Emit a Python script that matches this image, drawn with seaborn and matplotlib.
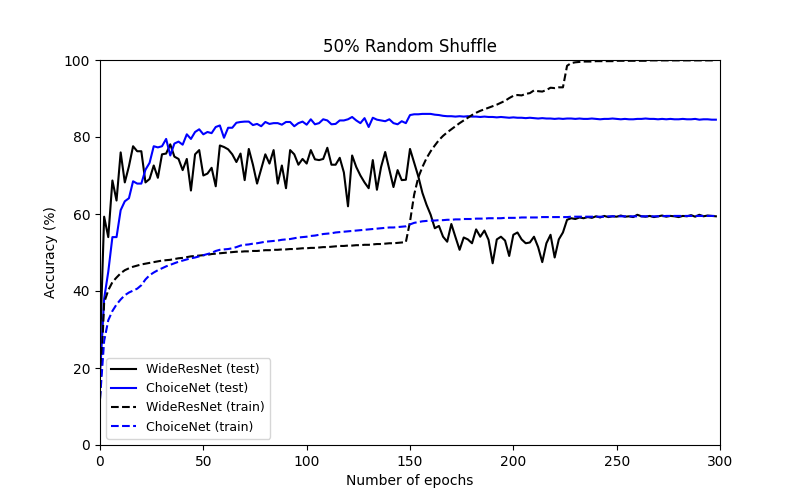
import matplotlib
matplotlib.use("Agg")
import matplotlib.pyplot as plt
import seaborn as sns

# epochs (evaluated every 2 epochs)
epochs = list(range(0, 300, 2))

wrn_test = [
    25.0, 59.3, 54.0, 68.7, 63.5, 76.0, 68.2, 72.4, 77.6, 76.3,
    76.3, 68.2, 69.1, 72.6, 69.4, 75.5, 75.7, 78.1, 74.9, 74.3,
    71.4, 74.3, 66.1, 75.5, 76.6, 70.0, 70.5, 72.0, 67.2, 77.8,
    77.4, 76.8, 75.5, 73.5, 75.7, 68.8, 76.9, 72.8, 67.9, 71.7,
    75.5, 73.1, 76.6, 67.9, 72.6, 66.7, 76.6, 75.5, 72.8, 74.3,
    73.1, 76.6, 74.2, 74.0, 74.3, 77.2, 72.8, 72.8, 74.6, 70.8,
    62.0, 75.2, 72.2, 70.0, 68.2, 66.7, 74.0, 66.3, 72.2, 76.1,
    71.5, 67.0, 71.4, 68.8, 68.9, 76.9, 73.3, 69.8, 65.5, 62.4,
    59.8, 56.3, 56.9, 54.1, 52.8, 57.4, 54.0, 50.7, 53.9, 53.4,
    52.4, 56.0, 54.1, 55.7, 53.3, 47.2, 53.4, 54.1, 53.1, 49.1,
    54.6, 55.2, 53.4, 52.4, 52.6, 54.1, 51.4, 47.5, 52.4, 54.6,
    48.7, 53.4, 55.2, 58.5, 58.9, 58.7, 59.1, 58.9, 59.2, 59.0,
    59.4, 59.1, 59.5, 59.2, 59.4, 59.3, 59.6, 59.3, 59.4, 59.2,
    59.8, 59.4, 59.3, 59.5, 59.2, 59.4, 59.6, 59.3, 59.5, 59.4,
    59.2, 59.5, 59.4, 59.7, 59.3, 59.8, 59.4, 59.6, 59.5, 59.4,
]

cn_test = [
    18.0, 38.0, 45.0, 54.0, 54.0, 61.0, 63.3, 64.1, 68.5, 67.9,
    67.9, 71.5, 73.3, 77.6, 77.3, 77.6, 79.5, 75.2, 78.3, 78.8,
    78.0, 80.7, 79.5, 81.3, 82.0, 80.7, 81.3, 81.0, 82.6, 83.0,
    79.8, 82.4, 82.4, 83.7, 83.9, 84.0, 84.0, 83.1, 83.4, 82.8,
    83.9, 83.4, 83.6, 83.6, 83.2, 83.9, 83.9, 82.8, 83.6, 84.0,
    83.2, 84.6, 83.3, 83.6, 84.6, 84.3, 83.3, 83.4, 84.3, 84.3,
    84.6, 85.2, 84.3, 83.6, 84.9, 82.6, 85.0, 84.5, 84.3, 84.1,
    84.6, 83.6, 83.3, 84.1, 83.6, 85.7, 85.9, 85.9, 86.0, 86.0,
    86.0, 85.8, 85.7, 85.5, 85.4, 85.4, 85.3, 85.4, 85.3, 85.4,
    85.3, 85.3, 85.2, 85.3, 85.2, 85.2, 85.1, 85.2, 85.1, 85.0,
    85.1, 85.0, 85.0, 84.9, 85.0, 84.9, 84.8, 84.9, 84.8, 84.8,
    84.7, 84.8, 84.7, 84.8, 84.8, 84.7, 84.8, 84.7, 84.7, 84.8,
    84.7, 84.6, 84.7, 84.7, 84.8, 84.7, 84.6, 84.7, 84.6, 84.6,
    84.7, 84.7, 84.8, 84.7, 84.7, 84.6, 84.7, 84.6, 84.7, 84.6,
    84.6, 84.7, 84.6, 84.6, 84.7, 84.5, 84.6, 84.6, 84.5, 84.5,
]

wrn_train = [
    12.0, 37.0, 40.2, 42.3, 43.5, 44.6, 45.4, 45.9, 46.3, 46.6,
    46.9, 47.1, 47.3, 47.5, 47.7, 47.9, 48.0, 48.1, 48.3, 48.5,
    48.6, 48.8, 49.0, 49.1, 49.2, 49.3, 49.4, 49.6, 49.7, 49.8,
    49.9, 50.0, 50.1, 50.2, 50.2, 50.3, 50.3, 50.4, 50.4, 50.5,
    50.6, 50.6, 50.7, 50.7, 50.8, 50.8, 50.9, 50.9, 51.0, 51.1,
    51.1, 51.2, 51.2, 51.3, 51.4, 51.4, 51.5, 51.6, 51.7, 51.7,
    51.8, 51.8, 51.9, 51.9, 52.0, 52.0, 52.1, 52.2, 52.2, 52.3,
    52.4, 52.4, 52.5, 52.6, 52.7, 58.0, 65.0, 69.5, 72.2, 74.5,
    76.3, 77.8, 79.2, 80.3, 81.2, 82.0, 82.8, 83.6, 84.3, 85.0,
    85.7, 86.3, 86.8, 87.2, 87.6, 88.0, 88.4, 88.9, 89.4, 90.1,
    90.7, 90.9, 90.8, 91.2, 91.4, 92.1, 91.9, 91.8, 92.2, 92.8,
    92.7, 92.9, 92.9, 98.5, 99.2, 99.4, 99.5, 99.6, 99.6, 99.6,
    99.7, 99.7, 99.7, 99.7, 99.7, 99.8, 99.8, 99.8, 99.8, 99.8,
    99.8, 99.8, 99.8, 99.9, 99.9, 99.9, 99.9, 99.9, 99.9, 99.9,
    99.9, 99.9, 99.9, 99.9, 99.9, 99.9, 99.9, 99.9, 99.9, 99.9,
]

cn_train = [
    12.0, 27.0, 32.4, 34.8, 36.5, 37.8, 38.9, 39.6, 40.1, 40.6,
    41.5, 43.0, 44.1, 44.8, 45.4, 45.9, 46.4, 46.8, 47.2, 47.6,
    47.9, 48.2, 48.5, 48.7, 49.0, 49.3, 49.6, 49.9, 50.4, 50.7,
    50.8, 50.9, 51.1, 51.4, 51.8, 52.0, 52.1, 52.3, 52.4, 52.6,
    52.8, 52.9, 53.0, 53.1, 53.3, 53.4, 53.5, 53.7, 53.9, 54.0,
    54.1, 54.3, 54.4, 54.6, 54.8, 54.9, 55.0, 55.2, 55.3, 55.4,
    55.5, 55.6, 55.7, 55.8, 55.9, 56.0, 56.1, 56.2, 56.3, 56.4,
    56.5, 56.5, 56.6, 56.7, 56.8, 57.3, 57.7, 57.9, 58.1, 58.2,
    58.3, 58.3, 58.4, 58.4, 58.5, 58.5, 58.6, 58.6, 58.7, 58.7,
    58.7, 58.8, 58.8, 58.8, 58.9, 58.9, 58.9, 58.9, 59.0, 59.0,
    59.0, 59.0, 59.1, 59.1, 59.1, 59.1, 59.1, 59.2, 59.2, 59.2,
    59.2, 59.2, 59.2, 59.2, 59.3, 59.3, 59.3, 59.3, 59.3, 59.3,
    59.3, 59.3, 59.3, 59.4, 59.4, 59.4, 59.4, 59.4, 59.4, 59.4,
    59.4, 59.4, 59.4, 59.4, 59.4, 59.4, 59.4, 59.5, 59.5, 59.5,
    59.5, 59.5, 59.5, 59.5, 59.5, 59.5, 59.5, 59.5, 59.5, 59.5,
]

fig, ax = plt.subplots(figsize=(8, 5), dpi=100)

sns.lineplot(x=epochs, y=wrn_test, color="black", linestyle="-",
             label="WideResNet (test)", ax=ax)
sns.lineplot(x=epochs, y=cn_test, color="blue", linestyle="-",
             label="ChoiceNet (test)", ax=ax)
sns.lineplot(x=epochs, y=wrn_train, color="black", linestyle="--",
             label="WideResNet (train)", ax=ax)
sns.lineplot(x=epochs, y=cn_train, color="blue", linestyle="--",
             label="ChoiceNet (train)", ax=ax)

ax.set_xlim(0, 300)
ax.set_ylim(0, 100)
ax.set_xlabel("Number of epochs")
ax.set_ylabel("Accuracy (%)")
ax.set_title("50% Random Shuffle")
ax.legend(loc="lower left", fontsize=9)

fig.savefig("out.png")
